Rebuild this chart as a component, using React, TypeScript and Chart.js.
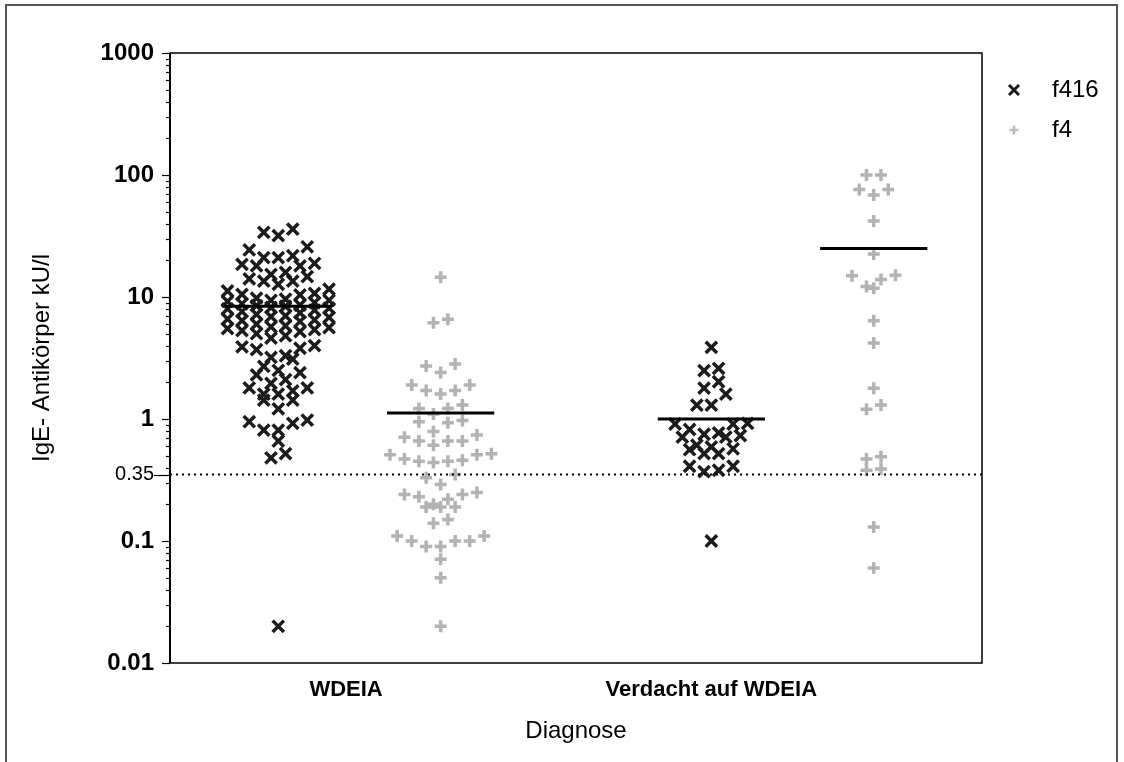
import React, { useEffect, useRef } from "react";
import { Chart, registerables } from "chart.js";

Chart.register(...registerables);

// ---------- data ----------
const categories = ["WDEIA", "Verdacht auf WDEIA"];
const seriesNames = ["f416", "f4"];

const f416_WDEIA = [
  36, 33.9, 31.8, 25.8, 24.3, 21.8, 21, 21, 18.9, 18.5, 18, 18, 15.9, 15.3, 14.7, 14.1, 13.5, 13.5,
  12.7, 11.6, 11.2, 10.7, 10.5, 10.4, 9.8, 9.6, 9.4, 9.4, 9.2, 9.0, 8.8, 8.6, 8.5, 8.4, 8.2, 8.1,
  8.0, 7.8, 7.6, 7.4, 7.2, 7.0, 6.9, 6.8, 6.6, 6.5, 6.4, 6.3, 6.0, 5.8, 5.7, 5.6, 5.5, 5.4, 5.3,
  5.2, 5.0, 4.8, 4.6, 4.0, 3.9, 3.8, 3.7, 3.3, 3.2, 3.1, 2.7, 2.5, 2.4, 2.3, 2.1, 1.96, 1.8, 1.8,
  1.7, 1.6, 1.6, 1.43, 1.43, 1.21, 0.98, 0.95, 0.92, 0.81, 0.81, 0.66, 0.52, 0.48, 0.02,
];
const f4_WDEIA = [
  14.5, 6.56, 6.16, 2.82, 2.72, 2.4, 1.9, 1.9, 1.71, 1.71, 1.6, 1.3, 1.22, 1.22, 1.1, 0.97, 0.95,
  0.93, 0.79, 0.74, 0.71, 0.66, 0.66, 0.66, 0.61, 0.52, 0.51, 0.51, 0.47, 0.46, 0.45, 0.45, 0.44,
  0.35, 0.33, 0.29, 0.25, 0.24, 0.24, 0.23, 0.22, 0.2, 0.19, 0.19, 0.19, 0.15, 0.14, 0.11, 0.11,
  0.1, 0.1, 0.1, 0.09, 0.09, 0.071, 0.05, 0.02,
];
const f416_Verdacht = [
  3.87, 2.6, 2.49, 2.02, 1.79, 1.6, 1.3, 1.3, 0.92, 0.91, 0.91, 0.82, 0.77, 0.75, 0.73, 0.71, 0.71,
  0.61, 0.59, 0.57, 0.56, 0.52, 0.52, 0.41, 0.41, 0.38, 0.37, 0.1,
];
const f4_Verdacht = [
  100, 100, 76, 76, 68.6, 42, 22.5, 15.1, 14.9, 13.9, 12.2, 11.8, 6.4, 4.2, 1.79, 1.3, 1.2, 0.49,
  0.47, 0.39, 0.38, 0.13, 0.06,
];
const meanF416 = [8.4, 1.0];
const meanF4 = [1.12, 25];
const cutoffValue = 0.35;
const cutoffLabel = "0.35";
const yMajorTicks = [0.01, 0.1, 1, 10, 100, 1000];
const yMajorLabels = ["0.01", "0.1", "1", "10", "100", "1000"];
const xAxisTitle = "Diagnose";
const yAxisTitle = "IgE- Antikörper kU/l";

// ---------- layout / style ----------
const W = 1124;
const H = 762;
const X_MAX = 5;
const CAT_CENTERS = [7 / 6, 23 / 6];
const GROUP_OFFSET = 0.5;
const LABEL_POS = [1.084, 3.333];
const MEAN_HALF = 0.33;
const FONT = '"Liberation Sans", Arial, Helvetica, sans-serif';
const DARK = "#1c1c1c";
const GREY = "#b3b3b3";

// Prism-like row layout: points with close y are gathered into a row (at most
// maxRow per row) and spread symmetrically, the lowest values in the middle.
function rowLayout(py: number[], values: number[], binH: number, s: number, maxRow: number): number[] {
  const idx = py.map((_, i) => i).sort((a, b) => py[a] - py[b]);
  const out = new Array(py.length).fill(0);
  let k = 0;
  while (k < idx.length) {
    const start = py[idx[k]];
    const bin: number[] = [];
    while (k < idx.length && py[idx[k]] - start < binH && bin.length < maxRow) {
      bin.push(idx[k]);
      k++;
    }
    const n = bin.length;
    const slots = Array.from({ length: n }, (_, j) => (j - (n - 1) / 2) * s);
    slots.sort((a, b) => Math.abs(a) - Math.abs(b) || a - b);
    bin.sort((a, b) => values[a] - values[b]);
    bin.forEach((pi, j) => (out[pi] = slots[j]));
  }
  return out;
}

const framePlugin = {
  id: "framePlugin",
  beforeDatasetsDraw(chart: any) {
    const { ctx, chartArea } = chart;
    const y = chart.scales.y;
    ctx.save();
    ctx.strokeStyle = "#555";
    ctx.lineWidth = 2;
    ctx.strokeRect(6, 5, 1111, 900);
    ctx.strokeStyle = "#000";
    ctx.lineWidth = 1.5;
    ctx.strokeRect(chartArea.left, chartArea.top, chartArea.right - chartArea.left, chartArea.bottom - chartArea.top);
    ctx.lineWidth = 2;
    ctx.beginPath();
    ctx.moveTo(chartArea.left, chartArea.top);
    ctx.lineTo(chartArea.left, chartArea.bottom);
    ctx.stroke();
    ctx.lineWidth = 1.2;
    for (let k = -2; k <= 3; k++) {
      for (let m = 1; m <= 9; m++) {
        if (k === 3 && m > 1) break;
        const v = m * Math.pow(10, k);
        const py = Math.round(y.getPixelForValue(v)) + 0.5;
        const len = m === 1 ? 8 : 4;
        ctx.beginPath();
        ctx.moveTo(chartArea.left - len, py);
        ctx.lineTo(chartArea.left, py);
        ctx.stroke();
      }
    }
    const pc = Math.round(y.getPixelForValue(cutoffValue)) + 0.5;
    ctx.beginPath();
    ctx.moveTo(chartArea.left - 16, pc);
    ctx.lineTo(chartArea.left, pc);
    ctx.stroke();
    ctx.restore();
  },
  afterDraw(chart: any) {
    const { ctx } = chart;
    ctx.save();
    const lx = 1014;
    const rows = [90, 130];
    ctx.strokeStyle = DARK;
    ctx.lineWidth = 3;
    ctx.beginPath();
    ctx.moveTo(lx - 5, rows[0] - 5);
    ctx.lineTo(lx + 5, rows[0] + 5);
    ctx.moveTo(lx + 5, rows[0] - 5);
    ctx.lineTo(lx - 5, rows[0] + 5);
    ctx.stroke();
    ctx.strokeStyle = "#bdbdbd";
    ctx.lineWidth = 2.5;
    ctx.beginPath();
    ctx.moveTo(lx - 4.5, rows[1]);
    ctx.lineTo(lx + 4.5, rows[1]);
    ctx.moveTo(lx, rows[1] - 4.5);
    ctx.lineTo(lx, rows[1] + 4.5);
    ctx.stroke();
    ctx.fillStyle = "#000";
    ctx.font = `24px ${FONT}`;
    ctx.textBaseline = "middle";
    ctx.textAlign = "left";
    ctx.fillText(seriesNames[0], 1052, rows[0]);
    ctx.fillText(seriesNames[1], 1052, rows[1]);
    ctx.restore();
  },
};

function makeLine(cx: number, m: number) {
  return {
    data: [
      { x: cx - MEAN_HALF, y: m },
      { x: cx + MEAN_HALF, y: m },
    ],
    showLine: true,
    borderColor: "#000",
    borderWidth: 3,
    pointRadius: 0,
    order: 0,
  };
}

export default function App() {
  const ref = useRef<HTMLCanvasElement | null>(null);
  useEffect(() => {
    if (!ref.current) return;
    const groups = [
      { values: f416_WDEIA, center: CAT_CENTERS[0] - GROUP_OFFSET, ds: 0 },
      { values: f416_Verdacht, center: CAT_CENTERS[1] - GROUP_OFFSET, ds: 0 },
      { values: f4_WDEIA, center: CAT_CENTERS[0] + GROUP_OFFSET, ds: 1 },
      { values: f4_Verdacht, center: CAT_CENTERS[1] + GROUP_OFFSET, ds: 1 },
    ];
    const chart = new Chart(ref.current, {
      type: "scatter",
      data: {
        datasets: [
          {
            label: seriesNames[0],
            data: [],
            pointStyle: "crossRot",
            pointRadius: 8,
            pointBorderWidth: 3.5,
            borderColor: DARK,
            backgroundColor: DARK,
            order: 2,
          },
          {
            label: seriesNames[1],
            data: [],
            pointStyle: "cross",
            pointRadius: 6,
            pointBorderWidth: 3.5,
            borderColor: GREY,
            backgroundColor: GREY,
            order: 2,
          },
          makeLine(CAT_CENTERS[0] - GROUP_OFFSET, meanF416[0]),
          makeLine(CAT_CENTERS[1] - GROUP_OFFSET, meanF416[1]),
          makeLine(CAT_CENTERS[0] + GROUP_OFFSET, meanF4[0]),
          makeLine(CAT_CENTERS[1] + GROUP_OFFSET, meanF4[1]),
          {
            data: [
              { x: 0, y: cutoffValue },
              { x: X_MAX, y: cutoffValue },
            ],
            showLine: true,
            borderColor: "#000",
            borderWidth: 2,
            borderDash: [2, 4],
            pointRadius: 0,
            order: 0,
          },
        ] as any,
      },
      options: {
        animation: false,
        responsive: false,
        events: [],
        layout: { padding: { left: 0, top: 53, right: W - 982, bottom: 0 } },
        plugins: { legend: { display: false }, tooltip: { enabled: false } },
        scales: {
          x: {
            type: "linear",
            min: 0,
            max: X_MAX,
            afterBuildTicks: (s: any) => {
              s.ticks = LABEL_POS.map((v) => ({ value: v }));
            },
            afterFit: (s: any) => {
              s.height = 99;
            },
            ticks: {
              callback: (_v: any, i: number) => categories[i],
              font: { family: FONT, size: 22, weight: "bold" },
              color: "#000",
              padding: 14,
              maxRotation: 0,
              autoSkip: false,
            },
            grid: { display: false, drawTicks: false },
            border: { display: false },
            title: {
              display: true,
              text: xAxisTitle,
              font: { family: FONT, size: 24 },
              color: "#000",
              padding: { top: 0, bottom: 16 },
            },
          },
          y: {
            type: "logarithmic",
            min: 0.01,
            max: 1000,
            afterBuildTicks: (s: any) => {
              s.ticks = [...yMajorTicks, cutoffValue].map((v) => ({ value: v }));
            },
            afterFit: (s: any) => {
              s.width = 170;
            },
            ticks: {
              callback: (v: any) => {
                if (Math.abs(v - cutoffValue) < 1e-9) return cutoffLabel;
                const i = yMajorTicks.findIndex((t) => Math.abs(t - v) < 1e-9);
                return i >= 0 ? yMajorLabels[i] : "";
              },
              font: (c: any) =>
                c.tick && Math.abs(c.tick.value - cutoffValue) < 1e-9
                  ? { family: FONT, size: 20, weight: "normal" }
                  : { family: FONT, size: 24, weight: "bold" },
              color: "#000",
              padding: 16,
              autoSkip: false,
            },
            grid: { display: false, drawTicks: false },
            border: { display: false },
            title: {
              display: true,
              text: yAxisTitle,
              font: { family: FONT, size: 24 },
              color: "#000",
              padding: { top: 28, bottom: 0 },
            },
          },
        },
      } as any,
      plugins: [framePlugin],
    });

    const xs = chart.scales.x;
    const ys = chart.scales.y;
    const pxPerUnit = (xs.right - xs.left) / X_MAX;
    const out: any[][] = [[], []];
    for (const g of groups) {
      const py = g.values.map((v) => ys.getPixelForValue(v));
      const off = rowLayout(py, g.values, 12, 14.5, 8);
      g.values.forEach((v, i) => out[g.ds].push({ x: g.center + off[i] / pxPerUnit, y: v }));
    }
    chart.data.datasets[0].data = out[0];
    chart.data.datasets[1].data = out[1];
    chart.update();

    return () => chart.destroy();
  }, []);

  return (
    <div style={{ position: "fixed", left: 0, top: 0, width: W, height: H, background: "#fff" }}>
      <canvas ref={ref} width={W} height={H} style={{ width: W, height: H, display: "block" }} />
    </div>
  );
}
